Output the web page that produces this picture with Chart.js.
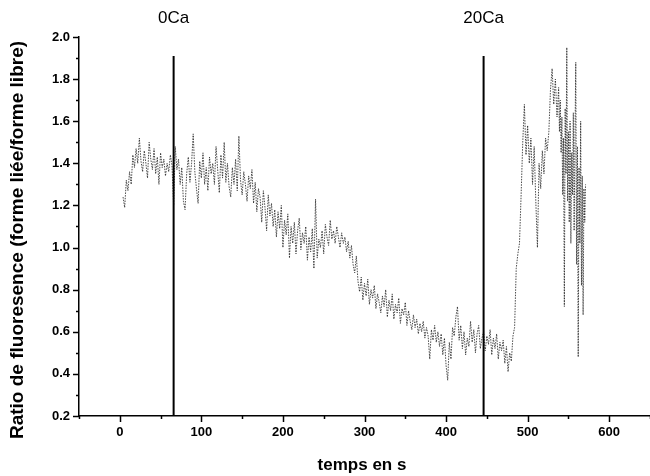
<!DOCTYPE html>
<html><head><meta charset="utf-8">
<script src="https://cdn.jsdelivr.net/npm/chart.js@4/dist/chart.umd.min.js"></script>
<style>html,body{margin:0;padding:0;background:#fff}#wrap{width:650px;height:476px}</style>
</head><body><div id="wrap"><canvas id="c" width="650" height="476"></canvas></div>
<script>
const timeSeconds = [4,6,8,10,12,14,16,18,20,22,24,26,28,30,32,34,36,38,40,42,44,46,48,50,52,54,56,58,60,62,64,66,68,70,72,74,76,78,80,82,84,86,88,90,92,94,96,98,100,102,104,106,108,110,112,114,116,118,120,122,124,126,128,130,132,134,136,138,140,142,144,146,148,150,152,154,156,158,160,162,164,166,168,170,172,174,176,178,180,182,184,186,188,190,192,194,196,198,200,202,204,206,208,210,212,214,216,218,220,222,224,226,228,230,232,234,236,238,240,242,244,246,248,250,252,254,256,258,260,262,264,266,268,270,272,274,276,278,280,282,284,286,288,290,292,294,296,298,300,302,304,306,308,310,312,314,316,318,320,322,324,326,328,330,332,334,336,338,340,342,344,346,348,350,352,354,356,358,360,362,364,366,368,370,372,374,376,378,380,382,384,386,388,390,392,394,396,398,400,402,404,406,408,410,412,414,416,418,420,422,424,426,428,430,432,434,436,438,440,442,444,446,448,450,452,454,456,458,460,462,464,466,468,470,472,474,476,478,480,482,484,486,488,490,492,494,496,498,500,502,504,506,508,510,512,514,516,518,520,522,524,526,528,530,532,534,536,538,539,540,541,542,543,544,545,546,547,548,549,550,551,552,553,554,555,556,557,558,559,560,561,562,563,564,565,566,567,568,569,570,571];
const ratio = [
1.24,1.19,1.32,1.27,
1.36,1.30,1.44,1.38,1.47,1.40,1.52,
1.41,1.36,1.46,1.40,1.33,1.50,1.42,1.37,
1.47,1.35,1.43,1.30,1.45,1.38,1.42,1.34,1.40,1.36,
1.44,1.39,1.20,1.48,1.37,
1.42,1.30,1.38,1.22,1.18,1.35,1.43,1.31,1.40,1.54,
1.36,1.28,1.21,1.41,1.33,1.45,1.30,1.38,1.27,1.43,
1.35,1.40,1.30,1.48,1.37,1.26,1.44,1.33,1.50,1.31,
1.40,1.29,1.24,1.38,1.30,1.42,1.27,1.53,1.32,1.25,
1.36,1.30,1.22,1.34,1.28,1.37,1.21,1.31,1.17,1.28,
1.24,1.12,1.27,1.19,1.08,1.25,1.15,1.21,1.10,1.18,
1.05,1.17,1.09,1.20,1.00,1.13,1.06,1.16,0.95,1.10,
1.02,1.12,0.97,1.08,1.14,0.99,1.07,1.02,1.10,0.94,
1.05,0.98,1.09,0.90,1.23,0.95,1.04,1.00,1.08,0.97,
1.11,1.05,1.01,1.13,1.04,1.08,1.02,1.10,1.05,1.00,
1.07,1.02,1.05,0.98,1.03,0.95,1.01,0.92,0.88,0.96,
0.84,0.79,0.86,0.75,0.83,0.77,0.85,0.73,0.80,0.76,
0.82,0.71,0.78,0.74,0.69,0.77,0.72,0.80,0.67,0.75,
0.70,0.78,0.66,0.73,0.69,0.76,0.64,0.71,0.68,0.74,
0.63,0.70,0.65,0.61,0.68,0.62,0.66,0.59,0.64,0.60,
0.65,0.57,0.62,0.58,0.47,0.61,0.56,0.63,0.55,0.60,
0.53,0.59,0.49,0.57,0.44,0.37,0.55,0.47,0.62,0.58,
0.67,0.72,0.56,0.63,0.52,0.60,0.49,0.57,0.53,0.65,
0.55,0.61,0.50,0.59,0.63,0.52,0.57,0.60,0.51,0.58,
0.54,0.61,0.49,0.57,0.52,0.59,0.47,0.55,0.51,0.56,
0.45,0.53,0.41,0.50,0.46,0.58,0.62,0.90,0.97,1.02,
1.25,1.50,1.68,1.44,1.58,1.40,1.52,1.30,1.48,1.22,
1.00,1.40,1.28,1.46,1.35,1.52,1.46,1.55,1.75,1.85,
1.68,1.80,1.62,1.76,
1.55,1.70,1.45,1.62,1.25,1.52,0.72,1.66,1.35,1.95,1.22,1.55,1.12,1.60,1.02,1.45,1.25,1.64,1.08,1.50,1.88,0.92,1.48,0.48,1.38,1.02,1.60,0.82,1.34,0.68,1.28,1.12,1.30];
const markerTimes = [66, 446];
const markerLabels = ['0Ca', '20Ca'];
const markerRange = [0.2, 1.91];
const xTickLabels = ['0','100','200','300','400','500','600'];
const yTickLabels = ['0.2','0.4','0.6','0.8','1.0','1.2','1.4','1.6','1.8','2.0'];
const xTitle = 'temps en s';
const yTitle = 'Ratio de fluoresence (forme liée/forme libre)';

const FONT = '"Liberation Sans", Arial, sans-serif';
const traceData = timeSeconds.map((t, i) => ({x: t, y: ratio[i]}));
const markerSets = markerTimes.map(t => ({
  type: 'line', data: [{x: t, y: markerRange[0]}, {x: t, y: markerRange[1]}],
  borderColor: '#000', borderWidth: 2, pointRadius: 0, order: 0
}));

const decor = {
  id: 'decor',
  afterDraw(chart) {
    const ctx = chart.ctx, xs = chart.scales.x, ys = chart.scales.y;
    const ca = chart.chartArea;
    ctx.save();
    ctx.strokeStyle = '#000'; ctx.lineWidth = 1.5;
    for (let k = 2; k <= 20; k++) {
      const p = Math.round(ys.getPixelForValue(k / 10)) + 0.5;
      const major = k % 2 === 0;
      ctx.beginPath(); ctx.moveTo(ca.left, p); ctx.lineTo(ca.left - (major ? 6 : 3), p); ctx.stroke();
    }
    for (let v = -50; v <= 650; v += 50) {
      const p = Math.round(xs.getPixelForValue(v)) + 0.5;
      const major = v % 100 === 0;
      ctx.beginPath(); ctx.moveTo(p, ca.bottom); ctx.lineTo(p, ca.bottom + (major ? 6 : 3)); ctx.stroke();
    }
    ctx.fillStyle = '#000';
    ctx.font = '17px ' + FONT; ctx.textAlign = 'center'; ctx.textBaseline = 'middle';
    markerTimes.forEach((t, i) => ctx.fillText(markerLabels[i], xs.getPixelForValue(t), 18));
    ctx.font = 'bold 17px ' + FONT;
    ctx.fillText(xTitle, 362, 465);
    ctx.font = 'bold 19px ' + FONT;
    ctx.translate(18, 240); ctx.rotate(-Math.PI / 2);
    ctx.fillText(yTitle, 0, 0);
    ctx.restore();
  }
};

new Chart(document.getElementById('c'), {
  type: 'line',
  data: {
    datasets: [{
      data: traceData, borderColor: 'rgba(30,30,30,0.8)', borderWidth: 1,
      borderDash: [1.5, 1.2], pointRadius: 0, tension: 0, order: 1
    }, ...markerSets]
  },
  options: {
    responsive: false, animation: false, devicePixelRatio: 1,
    layout: {padding: {top: 37, left: 0, right: 0, bottom: 0}},
    plugins: {legend: {display: false}, tooltip: {enabled: false}},
    scales: {
      x: {
        type: 'linear', min: -50, max: 650,
        afterBuildTicks: s => { s.ticks = xTickLabels.map(l => ({value: Number(l)})); },
        afterFit: s => { s.height = 60; },
        grid: {display: false, drawTicks: false},
        border: {display: true, color: '#000', width: 1.5},
        ticks: {padding: 9, color: '#000', font: {family: FONT, size: 13, weight: 'bold'},
          maxRotation: 0, autoSkip: false, callback: v => String(v)}
      },
      y: {
        type: 'linear', min: 0.2, max: 2.0,
        afterBuildTicks: s => { s.ticks = yTickLabels.map(l => ({value: Number(l)})); },
        afterFit: s => { s.width = 79; },
        grid: {display: false, drawTicks: false},
        border: {display: true, color: '#000', width: 1.5},
        ticks: {padding: 9, color: '#000', font: {family: FONT, size: 13, weight: 'bold'},
          callback: v => Number(v).toFixed(1)}
      }
    }
  },
  plugins: [decor]
});
</script></body></html>
